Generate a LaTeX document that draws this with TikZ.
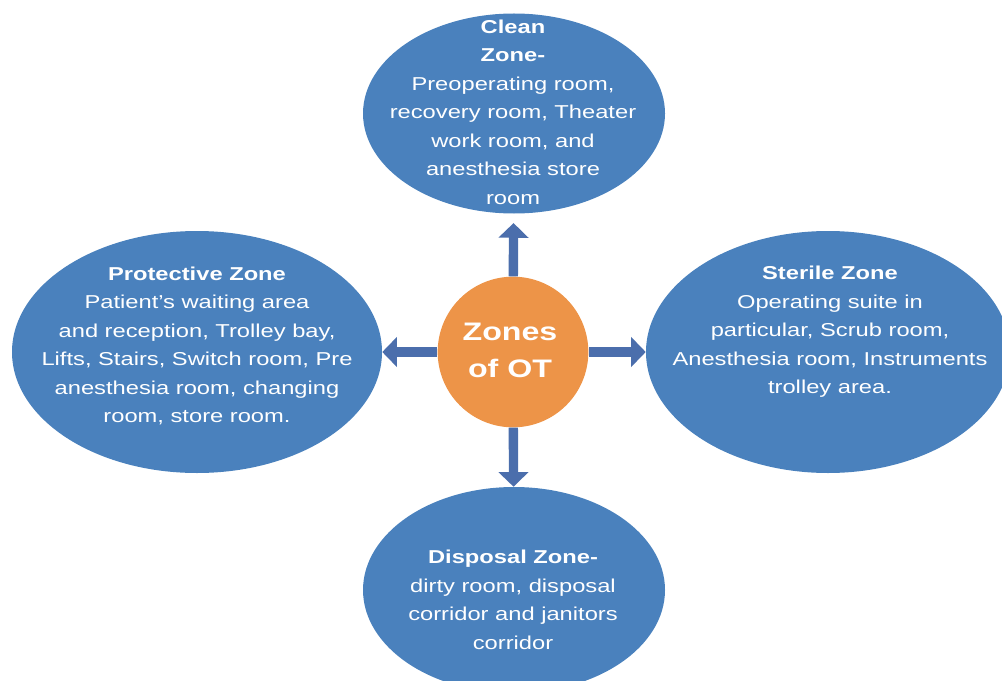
\documentclass[tikz,border=0pt]{standalone}
\usepackage{fontspec}
\setmainfont{Liberation Sans}[FakeStretch=1.27]
\usetikzlibrary{shapes.geometric,arrows.meta}
\definecolor{zoneblue}{RGB}{74,129,189}
\definecolor{otorange}{RGB}{237,148,72}
\definecolor{arrowblue}{RGB}{75,110,172}

\begin{document}
\begin{tikzpicture}[x=0.75pt, y=-0.75pt,
  zone/.style={ellipse, fill=zoneblue, inner sep=0pt},
  zonetext/.style={text=white, align=center, inner sep=0pt, font=\fontsize{14}{21.4}\selectfont},
  link/.style={draw=arrowblue, line width=7pt, -{Triangle[width=22pt, length=11pt]}}]
\useasboundingbox (0,0) rectangle (1002,681);

% Centre circle
\node[circle, fill=otorange, minimum size=113pt, inner sep=0pt] at (513,352) (ot) {};
\node[zonetext, font=\bfseries\fontsize{19}{27.75}\selectfont] at (510,350) (ottext) {Zones\\of OT};

% The four zones
\node[zone, minimum width=226.5pt, minimum height=150pt] at (514,113.5) (clean) {};
\node[zone, minimum width=277.5pt, minimum height=181.5pt] at (197,352) (protect) {};
\node[zone, minimum width=273pt, minimum height=181.5pt] at (828,352) (sterile) {};
\node[zone, minimum width=226.5pt, minimum height=154.5pt] at (514,590) (disposal) {};

\node[zonetext] at (513,112) (cleantext) {\textbf{Clean}\\\textbf{Zone-}\\Preoperating room,\\recovery room, Theater\\work room, and\\anesthesia store\\room};
\node[zonetext] at (197,346) (protecttext) {\textbf{Protective Zone}\\Patient’s waiting area\\and reception, Trolley bay,\\Lifts, Stairs, Switch room, Pre\\anesthesia room, changing\\room, store room.};
\node[zonetext] at (830,332) (steriletext) {\textbf{Sterile Zone}\\Operating suite in\\particular, Scrub room,\\Anesthesia room, Instruments\\trolley area.};
\node[zonetext] at (513,600) (disposaltext) {\textbf{Disposal Zone-}\\dirty room, disposal\\corridor and janitors\\corridor};

% Arrows out of the centre
\draw[link, shorten >=7pt] (ot) -- (clean);
\draw[link] (ot) -- (protect);
\draw[link] (ot) -- (sterile);
\draw[link] (ot) -- (disposal);
\end{tikzpicture}
\end{document}
